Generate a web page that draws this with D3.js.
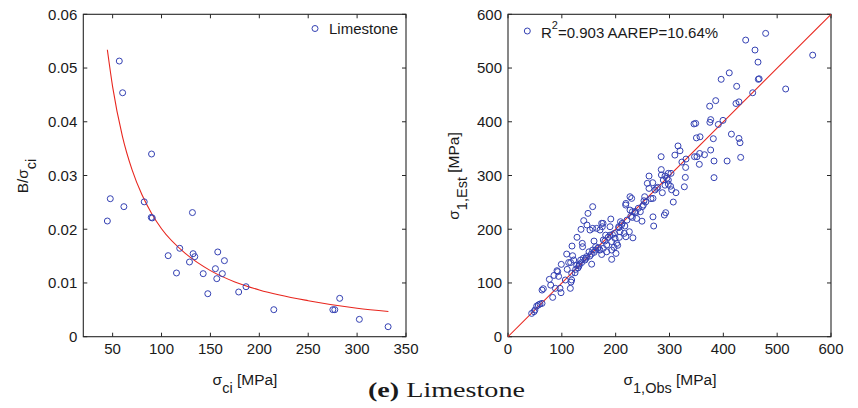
<!DOCTYPE html>
<html><head><meta charset="utf-8">
<script src="https://cdn.jsdelivr.net/npm/d3@7"></script>
<style>body{margin:0;background:#fff} text{font-family:"Liberation Sans",Arial,sans-serif;fill:#1a1a1a}</style>
</head><body><svg id="c" width="858" height="408"></svg>
<script>
// ---------- data: left panel ----------
const sigmaCi = [56.8,60.2,89.8,47.6,44.6,61.5,82.3,90.5,89.5,131.6,106.8,118.6,115.3,128.6,132.3,134,142.6,147.3,155.1,156.5,157.5,162.2,164.3,178.9,186.4,214.8,275.2,277.2,282.2,302.3,331.7];
const bRatio  = [0.0513,0.0454,0.0340,0.02568,0.02153,0.0242,0.0251,0.0221,0.0222,0.0231,0.01508,0.01645,0.01186,0.0139,0.01545,0.0149,0.01173,0.0080,0.01266,0.0108,0.01577,0.01173,0.01415,0.00832,0.0093,0.00503,0.00503,0.00503,0.00714,0.00323,0.00186];
const fitSigmaCi = [44.6,50,60,70,80,90,100,125,150,175,200,250,300,332];
const fitBRatio  = [0.0534,0.0465,0.0373,0.0310,0.0264,0.0229,0.0201,0.0154,0.0123,0.0102,0.0087,0.0067,0.0053,0.0047];
const leftXTicks = [50,100,150,200,250,300,350];
const leftYTicks = [0,0.01,0.02,0.03,0.04,0.05,0.06];

// ---------- data: right panel ----------
const sigObs = [478.6,441.5,458.8,566,464.4,411,465,466.5,396,424.8,515.8,454.5,385.8,429,423.5,374.6,348.6,345.5,376.5,375,390.7,399.4,415,356.7,350,381.4,429,431,315.8,319.5,376.5,284.5,310,346.5,351,356,365,432.2,330.7,323,355.4,382.7,407,330,382.7,284.7,262,285,297.8,302.8,329.4,291.6,295,288.5,297.8,
258.8,268.8,261.9,278,291.6,297.8,302,312,327.6,286.7,273,269.3,253.9,252.6,307,269.3,270.6,292.9,290.4,226.6,229.7,219,218.6,226.6,231,237,245.8,249.5,251.4,231,239,248.9,209,212,205.6,217,225.4,216,232,219,208,198.8,191,189.5,197.5,201.9,192.6,192.6,200.6,192.6,183.3,181.4,189.5,177,174,170.9,164.7,175.2,152.3,159.8,162.8,166.6,170.9,174,157.3,154.8,155.4,157.3,148.6,140.6,146.7,135.6,128.2,138,138.6,146,143,136.8,131.9,125.7,124.5,118.9,109,120,122,112.7,116.4,110,118.3,118.3,117,115.8,99,91,94,85.4,76.8,79.3,106.5,98.5,88,83,63.2,65.6,63.2,59.4,56.3,53.3,48.3,44,127.6,132.5,135,140,150.5,162.8,177,183.3,196.9,203.7,206.8,176.5,157.3,304,265.6,276,50,96.6,92.3,
130,145,152,160,168,180,186,194,206,211,221,228,236,242,256];
const sigEst = [564.5,552,533.5,524,511,491,479,480,479,466,461,454,439.3,437,434,429,397,396,404,399,395,402.6,377,372,370,368.5,369,361,355,346,347.4,335,338,335,335,341,338.7,333.7,330.6,325,320.8,327,327,315,296,311,299,301,304,304,296.5,299,294.7,291.6,291.6,
285.4,286.6,276,278,282,284,280,268,279,268,273,257.4,260.5,253,250.6,223,206,230.8,226.4,260.5,257.4,248,245,235.7,232.6,230.8,232.6,242,245,222,220,215,214,211,204.7,206,195.4,192.3,184,186,195.4,183,219,204.7,192.3,173.7,177,161.3,155,144,170.6,189,189,180,211,198.5,201.6,204.7,198.5,178,167.5,164.4,161.3,153,161.3,153.8,135,242,229.5,216,207.8,199.8,185,173.7,167.5,149,142.7,138,131.5,125.3,119,168.7,153.8,150.7,142.7,138,138,125.3,117.9,105.5,101.7,90,134.6,122.8,112.3,114,106.7,96,105.5,81.9,90,73.2,86.8,89.3,62,60.8,59,57,46.5,43.4,133,135,142.7,145.8,158,161.3,164.4,158,166.2,170,184.9,211,201.6,273.4,257,276,49.6,90,121,
128,146,150,157,166,178,185,190,203,208,217,224,233,239,251];
const rightTicks = [0,100,200,300,400,500,600];
const identityLine = [0,600];

// ---------- drawing ----------
const svg = d3.select("#c");
const blue = "#3441b3", red = "#e8261e", axisCol = "#262626";
const tickFs = 15, labFs = 15.5, subFs = 14.5;

function panel(x, y, xTicks, yTicks, yFmt) {
  const g = svg.append("g");
  const [x0,x1] = x.range(), [y0,y1] = y.range(); // y0 bottom
  const tl = 4;
  xTicks.forEach(t => {
    const px = x(t);
    g.append("line").attr("x1",px).attr("x2",px).attr("y1",y0).attr("y2",y0-tl).attr("stroke",axisCol);
    g.append("line").attr("x1",px).attr("x2",px).attr("y1",y1).attr("y2",y1+tl).attr("stroke",axisCol);
    g.append("text").attr("x",px).attr("y",y0+16.8).attr("text-anchor","middle").attr("font-size",tickFs).text(t);
  });
  yTicks.forEach(t => {
    const py = y(t);
    g.append("line").attr("x1",x0).attr("x2",x0+tl).attr("y1",py).attr("y2",py).attr("stroke",axisCol);
    g.append("line").attr("x1",x1).attr("x2",x1-tl).attr("y1",py).attr("y2",py).attr("stroke",axisCol);
    g.append("text").attr("x",x0-6).attr("y",py).attr("dy","0.36em").attr("text-anchor","end").attr("font-size",tickFs).text(yFmt(t));
  });
  g.append("rect").attr("x",x0).attr("y",y1).attr("width",x1-x0).attr("height",y0-y1)
    .attr("fill","none").attr("stroke",axisCol).attr("stroke-width",1.1);
  return g;
}

// left panel
const xL = d3.scaleLinear().domain([20,350]).range([83.3,406]);
const yL = d3.scaleLinear().domain([0,0.06]).range([336.7,14.3]);
const gL = panel(xL, yL, leftXTicks, leftYTicks, d => d===0 ? "0" : d3.format(".2f")(d));
const lineL = d3.line().x(d=>xL(d[0])).y(d=>yL(d[1])).curve(d3.curveMonotoneX);
gL.append("path").datum(d3.zip(fitSigmaCi, fitBRatio)).attr("d", lineL)
  .attr("fill","none").attr("stroke",red).attr("stroke-width",1.1);
gL.selectAll("circle.p").data(d3.zip(sigmaCi,bRatio)).join("circle")
  .attr("cx",d=>xL(d[0])).attr("cy",d=>yL(d[1])).attr("r",3)
  .attr("fill","none").attr("stroke",blue).attr("stroke-width",1);
// legend
gL.append("circle").attr("cx",315).attr("cy",28.5).attr("r",3).attr("fill","none").attr("stroke",blue);
gL.append("text").attr("x",329).attr("y",34).attr("font-size",15).text("Limestone");
// labels
const xlabL = gL.append("text").attr("x",245).attr("y",385).attr("text-anchor","middle").attr("font-size",labFs);
xlabL.append("tspan").text("σ");
xlabL.append("tspan").attr("dy",8).attr("font-size",subFs).text("ci");
xlabL.append("tspan").attr("dy",-8).text(" [MPa]");
const ylabL = gL.append("text").attr("transform","translate(28,176) rotate(-90)").attr("text-anchor","middle").attr("font-size",labFs);
ylabL.append("tspan").text("B/σ");
ylabL.append("tspan").attr("dy",8).attr("font-size",subFs).text("ci");

// right panel
const xR = d3.scaleLinear().domain([0,600]).range([508,831]);
const yR = d3.scaleLinear().domain([0,600]).range([336.7,14.3]);
const gR = panel(xR, yR, rightTicks, rightTicks, d => String(d));
gR.append("line").attr("x1",xR(identityLine[0])).attr("y1",yR(identityLine[0]))
  .attr("x2",xR(identityLine[1])).attr("y2",yR(identityLine[1])).attr("stroke",red).attr("stroke-width",1.1);
gR.selectAll("circle.p").data(d3.zip(sigObs,sigEst)).join("circle")
  .attr("cx",d=>xR(d[0])).attr("cy",d=>yR(d[1])).attr("r",3)
  .attr("fill","none").attr("stroke",blue).attr("stroke-width",1);
gR.append("circle").attr("cx",527.3).attr("cy",31).attr("r",3).attr("fill","none").attr("stroke",blue);
const leg = gR.append("text").attr("x",541).attr("y",38.3).attr("font-size",15);
leg.append("tspan").text("R");
leg.append("tspan").attr("dy",-9).attr("font-size",11).text("2");
leg.append("tspan").attr("dy",9).text("=0.903 AAREP=10.64%");
const xlabR = gR.append("text").attr("x",670).attr("y",385).attr("text-anchor","middle").attr("font-size",labFs);
xlabR.append("tspan").text("σ");
xlabR.append("tspan").attr("dy",8).attr("font-size",subFs).text("1,Obs");
xlabR.append("tspan").attr("dy",-8).text(" [MPa]");
const ylabR = gR.append("text").attr("transform","translate(459,176) rotate(-90)").attr("text-anchor","middle").attr("font-size",labFs);
ylabR.append("tspan").text("σ");
ylabR.append("tspan").attr("dy",8).attr("font-size",subFs).text("1,Est");
ylabR.append("tspan").attr("dy",-8).text(" [MPa]");

// caption
const cap = svg.append("text").attr("x",368).attr("y",396.7).attr("font-size",20.5)
  .attr("textLength",157).attr("lengthAdjust","spacingAndGlyphs")
  .style("font-family","'Liberation Serif','Times New Roman',serif");
cap.append("tspan").attr("font-weight","bold").text("(e)");
cap.append("tspan").text(" Limestone");
</script></body></html>
